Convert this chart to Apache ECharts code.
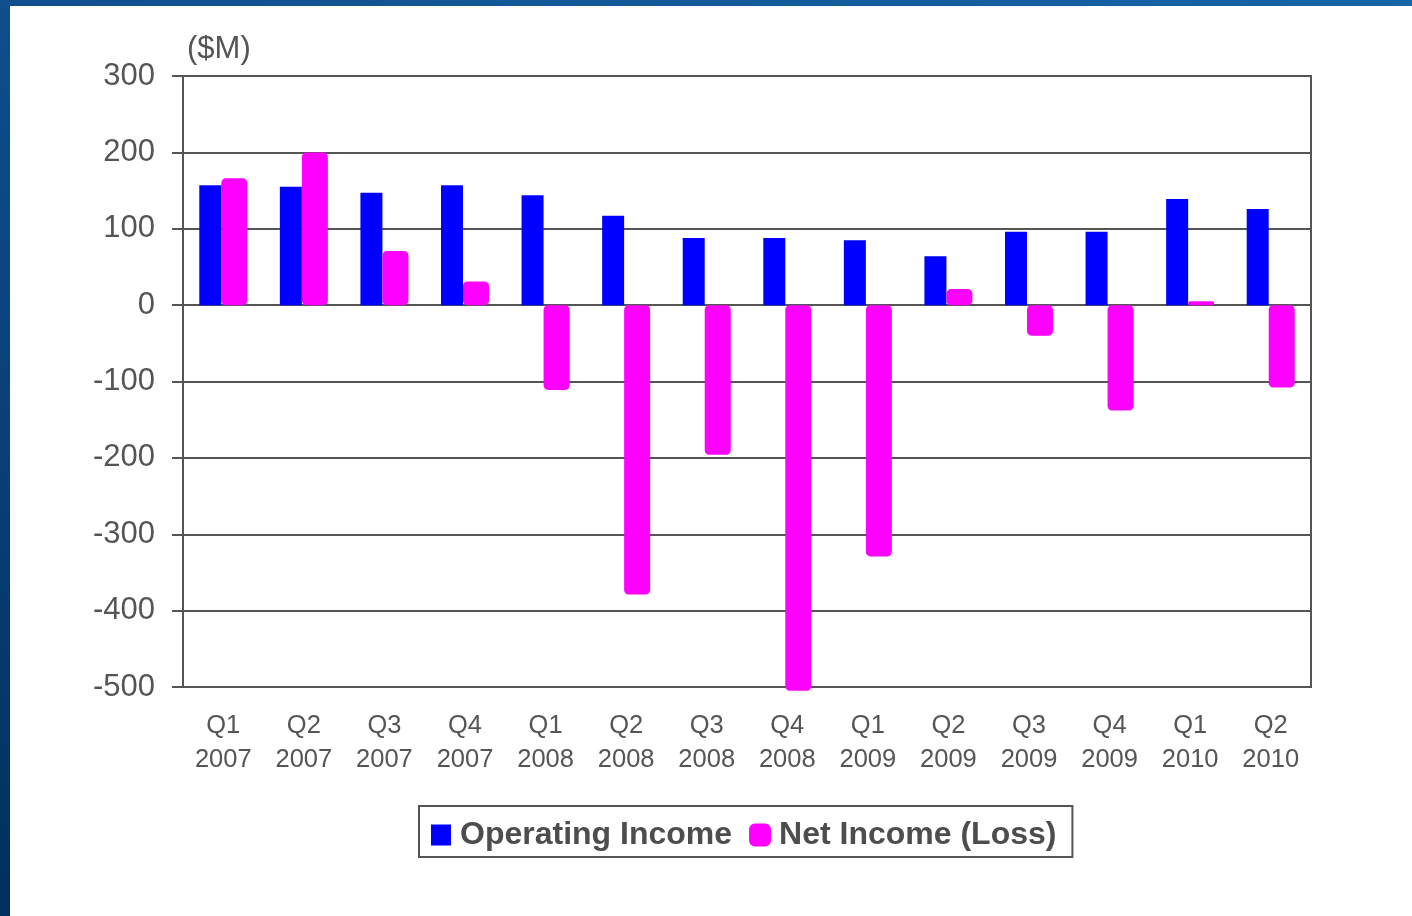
<!DOCTYPE html>
<html>
<head>
<meta charset="utf-8">
<script src="https://cdn.jsdelivr.net/npm/echarts@6/dist/echarts.min.js"></script>
<style>
  html, body { margin: 0; padding: 0; background: #ffffff; }
  #chart { width: 1412px; height: 916px; }
</style>
</head>
<body>
<div id="chart"></div>
<script>
// Quarterly results, $M
const quarters = ['Q1\n2007', 'Q2\n2007', 'Q3\n2007', 'Q4\n2007',
                  'Q1\n2008', 'Q2\n2008', 'Q3\n2008', 'Q4\n2008',
                  'Q1\n2009', 'Q2\n2009', 'Q3\n2009', 'Q4\n2009',
                  'Q1\n2010', 'Q2\n2010'];
const operatingIncome = [157, 155, 147, 157, 144, 117, 88, 88, 85, 64, 96, 96, 139, 126];
const netIncome = [166, 200, 71, 31, -111, -379, -196, -505, -329, 21, -40, -138, 5, -108];
const yTicks = { min: -500, max: 300, step: 100 };

const FONT = '"Liberation Sans", Arial, sans-serif';
const GREY = '#555555';

const chart = echarts.init(document.getElementById('chart'), null, { renderer: 'canvas' });

chart.setOption({
  backgroundColor: '#ffffff',
  animation: false,
  textStyle: { fontFamily: FONT },
  graphic: [
    // slide frame: dark band on the left, blue strip on top
    {
      type: 'rect', left: 0, top: 0, z: 100,
      shape: { width: 10, height: 916 },
      style: {
        fill: new echarts.graphic.LinearGradient(0, 0, 0, 1, [
          { offset: 0, color: '#0f4f8c' },
          { offset: 1, color: '#02305e' }
        ])
      }
    },
    {
      type: 'rect', left: 0, top: 0, z: 100,
      shape: { width: 1412, height: 6 },
      style: {
        fill: new echarts.graphic.LinearGradient(0, 0, 1, 0, [
          { offset: 0, color: '#104f8c' },
          { offset: 1, color: '#1565a8' }
        ])
      }
    }
  ],
  grid: {
    left: 183, right: 101, top: 76, bottom: 229,
    show: true, borderColor: GREY, borderWidth: 2, backgroundColor: 'transparent'
  },
  legend: {
    left: 419, top: 806,
    orient: 'horizontal',
    padding: [13, 16, 6, 12],
    itemWidth: 20, itemHeight: 21, itemGap: 17,
    borderColor: GREY, borderWidth: 2,
    textStyle: { fontFamily: FONT, fontSize: 32, fontWeight: 'bold', color: '#4d4d4d', padding: [0, 0, 0, 4] },
    data: [
      { name: 'Operating Income', icon: 'rect' },
      { name: 'Net Income (Loss)', icon: 'roundRect' }
    ]
  },
  xAxis: {
    type: 'category',
    data: quarters,
    axisLine: { show: false, onZero: false },
    axisTick: { show: false },
    axisLabel: {
      margin: 22, fontSize: 25.5, lineHeight: 34, color: GREY, fontFamily: FONT,
      interval: 0
    },
    splitLine: { show: false }
  },
  yAxis: {
    type: 'value',
    min: yTicks.min, max: yTicks.max, interval: yTicks.step,
    name: '($M)',
    nameLocation: 'end',
    nameGap: 11,
    nameTextStyle: { fontSize: 31, color: GREY, fontFamily: FONT, align: 'left', padding: [0, 0, 0, 4] },
    axisLine: { show: true, lineStyle: { color: GREY, width: 2 } },
    axisTick: { show: true, length: 11, lineStyle: { color: GREY, width: 2 } },
    axisLabel: { margin: 28, fontSize: 31, color: GREY, fontFamily: FONT, padding: [3, 0, 0, 0] },
    splitLine: { show: true, lineStyle: { color: GREY, width: 2 } }
  },
  series: [
    {
      name: 'Operating Income',
      type: 'bar',
      data: operatingIncome,
      barWidth: 22,
      barGap: '0%',
      itemStyle: { color: '#0000ff' },
      z: 2
    },
    {
      name: 'Net Income (Loss)',
      type: 'bar',
      data: netIncome,
      barWidth: 26,
      clip: false,
      itemStyle: { color: '#ff00ff', borderColor: '#ff00ff', borderWidth: 3, borderRadius: 3 },
      z: 3
    }
  ]
});
</script>
</body>
</html>
